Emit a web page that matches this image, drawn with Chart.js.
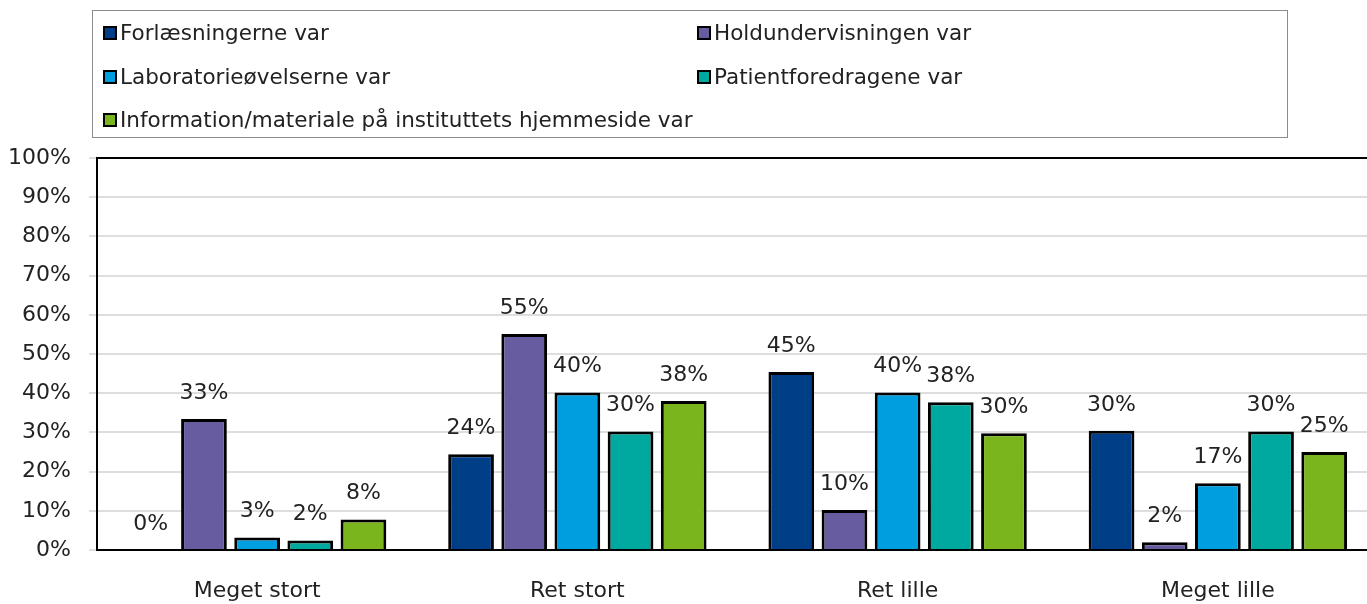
<!DOCTYPE html>
<html>
<head>
<meta charset="utf-8">
<script src="https://cdn.jsdelivr.net/npm/chart.js@4.4.1/dist/chart.umd.min.js"></script>
<style>
  html, body { margin: 0; padding: 0; background: #fff; overflow: hidden; }
  #clip { width: 1367px; height: 604px; overflow: hidden; position: relative; }
  #wrap { width: 1378px; height: 604px; position: relative; }
</style>
</head>
<body>
<div id="clip"><div id="wrap"><canvas id="chart"></canvas></div></div>
<script>
// Survey answers per category (percent)
const categories = ['Meget stort', 'Ret stort', 'Ret lille', 'Meget lille'];
const seriesNames = [
    'Forlæsningerne var',
    'Holdundervisningen var',
    'Laboratorieøvelserne var',
    'Patientforedragene var',
    'Information/materiale på instituttets hjemmeside var'
];
const forlaesninger = [0, 24.4, 45.4, 30.4];
const holdundervisning = [33.4, 55.1, 10.2, 2.0];
const laboratorie = [3.2, 40.2, 40.2, 17.0];
const patient = [2.4, 30.2, 37.7, 30.2];
const information = [7.8, 38.0, 29.8, 25.0];
const yTicks = [0, 10, 20, 30, 40, 50, 60, 70, 80, 90, 100];

const colors = ['#003f87', '#665c9f', '#009ddf', '#00a9a0', '#7ab51d'];
const FONT = '"DejaVu Sans", sans-serif';

// value labels above each bar
const valueLabels = {
    id: 'valueLabels',
    afterDatasetsDraw(chart) {
        const ctx = chart.ctx;
        ctx.save();
        ctx.font = '22px ' + FONT;
        ctx.fillStyle = '#222';
        ctx.textAlign = 'center';
        ctx.textBaseline = 'middle';
        chart.data.datasets.forEach((ds, i) => {
            const meta = chart.getDatasetMeta(i);
            meta.data.forEach((bar, j) => {
                ctx.fillText(Math.round(ds.data[j]) + '%', bar.x, bar.y - 26);
            });
        });
        ctx.restore();
    }
};

// boxed two-column legend + top frame line
const boxLegend = {
    id: 'boxLegend',
    afterDraw(chart) {
        const ctx = chart.ctx;
        const area = chart.chartArea;
        ctx.save();
        ctx.strokeStyle = '#000';
        ctx.lineWidth = 2;
        ctx.beginPath();
        ctx.moveTo(area.left, area.top);
        ctx.lineTo(area.right - 1, area.top);
        ctx.lineTo(area.right - 1, area.bottom);
        ctx.stroke();

        ctx.strokeStyle = '#8c8c8c';
        ctx.lineWidth = 1;
        ctx.strokeRect(92.5, 10.5, 1195, 127);

        const colX = [103, 697];
        const rowY = [33, 77, 120];
        ctx.font = '21.5px ' + FONT;
        ctx.textBaseline = 'middle';
        ctx.textAlign = 'left';
        chart.data.datasets.forEach((ds, i) => {
            const x = colX[i % 2];
            const y = rowY[Math.floor(i / 2)];
            ctx.fillStyle = '#000';
            ctx.fillRect(x, y - 7, 14, 14);
            ctx.fillStyle = ds.backgroundColor;
            ctx.fillRect(x + 2, y - 5, 10, 10);
            ctx.fillStyle = '#222';
            ctx.fillText(ds.label, x + 17, y + 1);
        });
        ctx.restore();
    }
};

const seriesData = [forlaesninger, holdundervisning, laboratorie, patient, information];

new Chart(document.getElementById('chart'), {
    type: 'bar',
    data: {
        labels: categories,
        datasets: seriesNames.map((name, i) => ({
            label: name,
            data: seriesData[i],
            backgroundColor: colors[i],
            borderColor: '#000',
            borderWidth: 3,
            borderSkipped: 'start',
            categoryPercentage: 0.83,
            barPercentage: 0.86
        }))
    },
    options: {
        responsive: true,
        maintainAspectRatio: false,
        animation: false,
        layout: {
            padding: { top: 158, left: 0, right: 0, bottom: 0 }
        },
        plugins: {
            legend: { display: false },
            tooltip: { enabled: false }
        },
        scales: {
            x: {
                grid: { display: false, drawTicks: false },
                border: { color: '#000', width: 2 },
                ticks: {
                    color: '#222',
                    font: { family: FONT, size: 22 },
                    padding: 28,
                    maxRotation: 0
                },
                afterFit: scale => { scale.height = 54; }
            },
            y: {
                min: 0,
                max: 100,
                afterBuildTicks: scale => {
                    scale.ticks = yTicks.map(v => ({ value: v }));
                },
                grid: {
                    color: '#dedede',
                    lineWidth: 2,
                    tickLength: 8,
                    tickColor: '#dedede'
                },
                border: { color: '#000', width: 2 },
                ticks: {
                    color: '#222',
                    font: { family: FONT, size: 22 },
                    padding: 18,
                    callback: v => v + '%'
                },
                afterFit: scale => { scale.width = 97; }
            }
        }
    },
    plugins: [valueLabels, boxLegend]
});
</script>
</body>
</html>
